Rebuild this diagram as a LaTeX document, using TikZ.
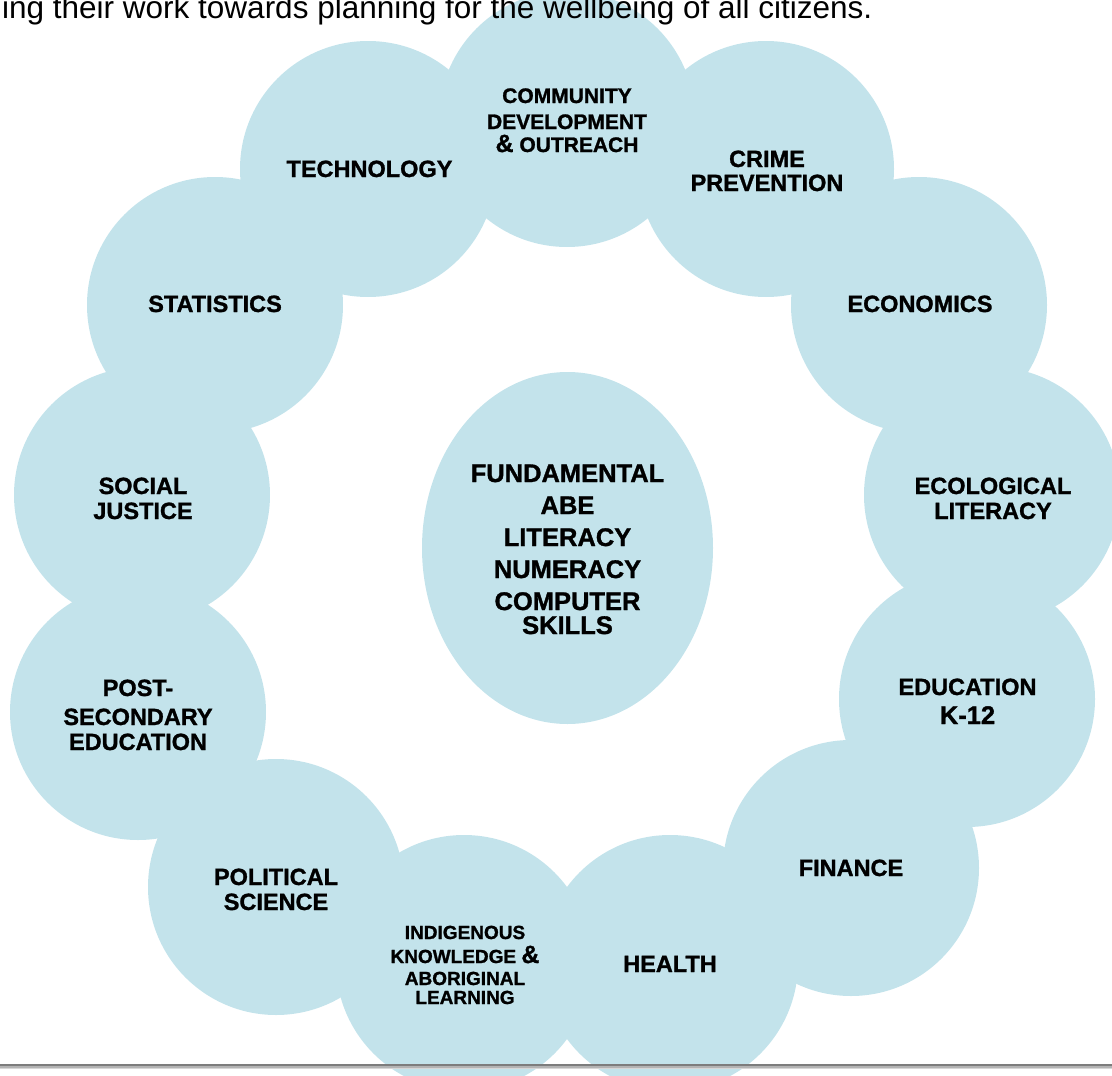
\documentclass[tikz,border=0pt]{standalone}
\usepackage{fontspec}
\setmainfont{Liberation Sans}[BoldFeatures={FakeBold=1.2}]
\usetikzlibrary{shapes.geometric}
\definecolor{bub}{RGB}{195,227,235}
\definecolor{ruleA}{RGB}{125,125,125}
\definecolor{ruleB}{RGB}{180,180,180}
\definecolor{ruleC}{RGB}{215,215,215}
\newcommand\stk[2]{\vtop{\baselineskip=#1\relax\lineskiplimit=-100pt\lineskip=0pt\halign{\hfil##\hfil\cr#2\crcr}}}
\begin{document}
\begin{tikzpicture}[x=1pt,y=-1pt,
  bubble/.style={circle,fill=bub,minimum size=256pt,inner sep=0pt},
  lbl/.style={anchor=base,inner sep=0pt,text=black,font=\bfseries\fontsize{23.5}{28}\selectfont},
  smalllbl/.style={lbl,font=\bfseries\fontsize{19}{22}\selectfont},
  midlbl/.style={lbl,font=\bfseries\fontsize{21}{24}\selectfont},
  biglbl/.style={lbl,font=\bfseries\fontsize{25.5}{30}\selectfont}]
\useasboundingbox (0,0) rectangle (1112,1076);
\clip (0,0) rectangle (1112,1076);
% ring of bubbles
\node[bubble] (comm) at (567,119) {};
\node[bubble] (tech) at (368,169) {};
\node[bubble] (crime) at (766,169) {};
\node[bubble] (stat) at (215,305) {};
\node[bubble] (econ) at (919,305) {};
\node[bubble] (soc) at (142,495) {};
\node[bubble] (eco) at (992,495) {};
\node[bubble] (post) at (138,712) {};
\node[bubble] (edu) at (967,699) {};
\node[bubble] (pol) at (276,887) {};
\node[bubble] (fin) at (851,868) {};
\node[bubble] (ind) at (464,963) {};
\node[bubble] (health) at (670,963) {};
% centre
\node[ellipse,fill=bub,minimum width=291pt,minimum height=352pt,inner sep=0pt] (core) at (567.5,548) {};
% labels
\node[midlbl] (commT) at (567,103) {\stk{23pt}{COMMUNITY\cr\noalign{\vskip3pt}DEVELOPMENT\cr{\fontsize{25}{25}\selectfont\&} OUTREACH}};
\node[lbl] (techT) at (369.5,177) {TECHNOLOGY};
\node[lbl] (crimeT) at (767,167) {\stk{24pt}{CRIME\cr PREVENTION}};
\node[lbl] (statT) at (215,312) {STATISTICS};
\node[lbl] (econT) at (920,312) {ECONOMICS};
\node[lbl] (socT) at (143,494) {\stk{25pt}{SOCIAL\cr JUSTICE}};
\node[lbl] (ecoT) at (993,494) {\stk{25pt}{ECOLOGICAL\cr LITERACY}};
\node[lbl] (postT) at (138,696) {\stk{25pt}{POST-\cr\noalign{\vskip4pt}SECONDARY\cr EDUCATION}};
\node[lbl] (eduT) at (967.5,695) {\stk{29pt}{EDUCATION\cr{\fontsize{25.5}{28}\selectfont K-12}}};
\node[lbl] (polT) at (276,885) {\stk{25pt}{POLITICAL\cr SCIENCE}};
\node[lbl] (finT) at (851,876) {FINANCE};
\node[lbl] (healthT) at (670,972) {HEALTH};
\node[smalllbl] (indT) at (465,939) {\stk{19pt}{INDIGENOUS\cr\noalign{\vskip5pt}KNOWLEDGE {\fontsize{25}{25}\selectfont\&}\cr\noalign{\vskip3pt}ABORIGINAL\cr LEARNING}};
\node[biglbl] (coreT) at (567.5,482) {\stk{32pt}{FUNDAMENTAL\cr ABE\cr LITERACY\cr NUMERACY\cr COMPUTER\cr\noalign{\vskip-8pt}SKILLS}};
% intro text cut by the page top, as in the source
\node[anchor=base west,inner sep=0pt,font=\fontsize{31.5}{36}\selectfont] (intro) at (2,19) {ing their work towards planning for the wellbeing of all citizens.};
% rule at the bottom
\fill[ruleA] (0,1064) rectangle (1112,1066);
\fill[ruleB] (0,1066) rectangle (1112,1068);
\fill[ruleC] (0,1068) rectangle (1112,1069);
\end{tikzpicture}
\end{document}
